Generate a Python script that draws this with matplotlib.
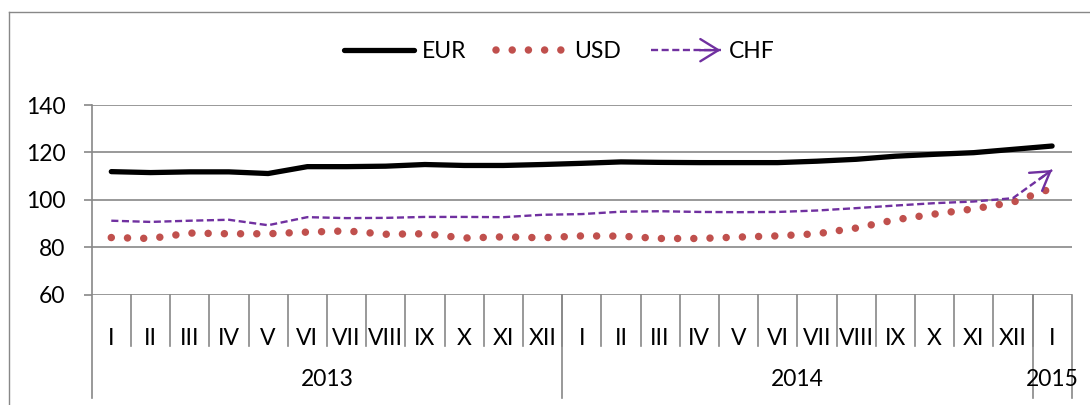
import matplotlib
matplotlib.use("Agg")
import matplotlib.pyplot as plt
from matplotlib.lines import Line2D
from matplotlib.patches import FancyArrowPatch
from matplotlib.legend_handler import HandlerBase
import matplotlib.transforms as mtransforms
import numpy as np

plt.rcParams['font.family'] = ['Lato', 'DejaVu Sans']

# data, monthly index values
months = ['I', 'II', 'III', 'IV', 'V', 'VI', 'VII', 'VIII', 'IX', 'X', 'XI', 'XII',
          'I', 'II', 'III', 'IV', 'V', 'VI', 'VII', 'VIII', 'IX', 'X', 'XI', 'XII',
          'I']
years = ['2013', '2014', '2015']
year_counts = [12, 12, 1]

eur = [111.9, 111.5, 111.8, 111.8, 111.1, 114.0, 114.0, 114.2, 114.9, 114.5, 114.5, 114.9,
       115.4, 116.0, 115.8, 115.7, 115.7, 115.7, 116.3, 117.1, 118.4, 119.2, 119.9, 121.3,
       122.7]
usd = [84.1, 83.7, 86.0, 85.7, 85.7, 86.4, 86.9, 85.5, 85.7, 83.9, 84.4, 84.0,
       84.8, 84.7, 83.7, 83.7, 84.3, 84.8, 85.7, 88.1, 91.6, 94.0, 96.2, 99.0,
       104.9]
chf = [91.2, 90.7, 91.2, 91.6, 89.3, 92.7, 92.3, 92.4, 92.8, 92.8, 92.7, 93.7,
       94.0, 95.0, 95.2, 94.9, 94.8, 94.9, 95.5, 96.5, 97.6, 98.6, 99.3, 100.7,
       112.6]

GRAY = '#888888'
EUR_C = 'black'
USD_C = '#C0504D'
CHF_C = '#7030A0'
FS = 16.5

W, H = 1090, 405
fig = plt.figure(figsize=(W/100, H/100), dpi=100)
ax_l, ax_r, ax_t, ax_b = 91.7, 1071.7, 105.0, 294.7
ax = fig.add_axes([ax_l/W, 1-ax_b/H, (ax_r-ax_l)/W, (ax_b-ax_t)/H])

x = np.arange(len(months))
usd_style = dict(color=USD_C, lw=5.4, linestyle=(0, (0.001, 2.16)), dash_capstyle='round')
chf_style = dict(color=CHF_C, lw=1.7, linestyle=(0, (3, 1.5)))

ax.plot(x, eur, color=EUR_C, lw=3.8, solid_capstyle='round', zorder=3)
ax.plot(x, usd, zorder=3, **usd_style)
ax.plot(x, chf, zorder=3, **chf_style)
# arrow head at end of CHF
n = len(chf) - 1
ax.annotate('', xy=(x[n], chf[n]),
            xytext=(x[n] - 0.3, chf[n] - 0.3*(chf[n]-chf[n-1])),
            arrowprops=dict(arrowstyle='->,head_length=0.65,head_width=0.4',
                            color=CHF_C, lw=1.7, shrinkA=0, shrinkB=0,
                            mutation_scale=20), zorder=4)

ax.set_xlim(-0.5, len(months)-0.5)
ax.set_ylim(60, 140)
ax.set_yticks(range(60, 141, 20))
ax.set_xticks([])
ax.yaxis.grid(True, color=GRAY, lw=1.2)
ax.set_axisbelow(True)
for s in ax.spines.values():
    s.set_visible(False)
ax.tick_params(axis='y', length=6.0, width=1.2, color=GRAY, pad=13, labelsize=FS)

# category axis
ah = ax_b - ax_t
trans = mtransforms.blended_transform_factory(ax.transData, ax.transAxes)
for i in range(1, len(months)):
    ax.plot([i-0.5, i-0.5], [0, -(346-ax_b)/ah], color=GRAY, lw=1.2,
            transform=trans, clip_on=False)
for i, m in enumerate(months):
    ax.text(i, -(338.3-ax_b)/ah, m, transform=trans, ha='center', va='center', fontsize=FS)
edges = np.concatenate([[0], np.cumsum(year_counts)]) - 0.5
low = -(398-ax_b)/ah
ax.plot([edges[0], edges[0]], [1, low], color=GRAY, lw=1.2, transform=trans, clip_on=False)
for e in edges[1:]:
    ax.plot([e, e], [0, low], color=GRAY, lw=1.2, transform=trans, clip_on=False)
for k, yr in enumerate(years):
    ax.text((edges[k]+edges[k+1])/2, -(380-ax_b)/ah, yr, transform=trans,
            ha='center', va='center', fontsize=FS)

# outer chart border
fig.add_artist(Line2D([8.7/W, 1.0], [1-11.7/H]*2, color=GRAY, lw=1.0,
                      transform=fig.transFigure))
fig.add_artist(Line2D([8.7/W]*2, [0, 1-11.7/H], color=GRAY, lw=1.0,
                      transform=fig.transFigure))


class HandlerArrowLine(HandlerBase):
    def create_artists(self, legend, orig_handle, xdescent, ydescent, width, height,
                       fontsize, trans):
        y = height/2 - ydescent
        ln = Line2D([-xdescent, width-xdescent], [y, y], **chf_style)
        ln.set_transform(trans)
        ar = FancyArrowPatch((width*0.7-xdescent, y), (width-xdescent, y),
                             arrowstyle='->,head_length=0.65,head_width=0.4',
                             color=CHF_C, lw=1.7, mutation_scale=20,
                             shrinkA=0, shrinkB=0)
        ar.set_transform(trans)
        return [ln, ar]


h_eur = Line2D([], [], color=EUR_C, lw=3.8, solid_capstyle='round')
h_usd = Line2D([], [], **usd_style)
h_chf = Line2D([], [], **chf_style)
fig.legend([h_eur, h_usd, h_chf], ['EUR', 'USD', 'CHF'], loc='center',
           bbox_to_anchor=(0.513, 1-51.7/H), ncol=3, frameon=False, fontsize=FS,
           handlelength=3.05, handletextpad=0.35, columnspacing=1.3,
           handler_map={h_chf: HandlerArrowLine()})

fig.savefig('out.png', dpi=100)
